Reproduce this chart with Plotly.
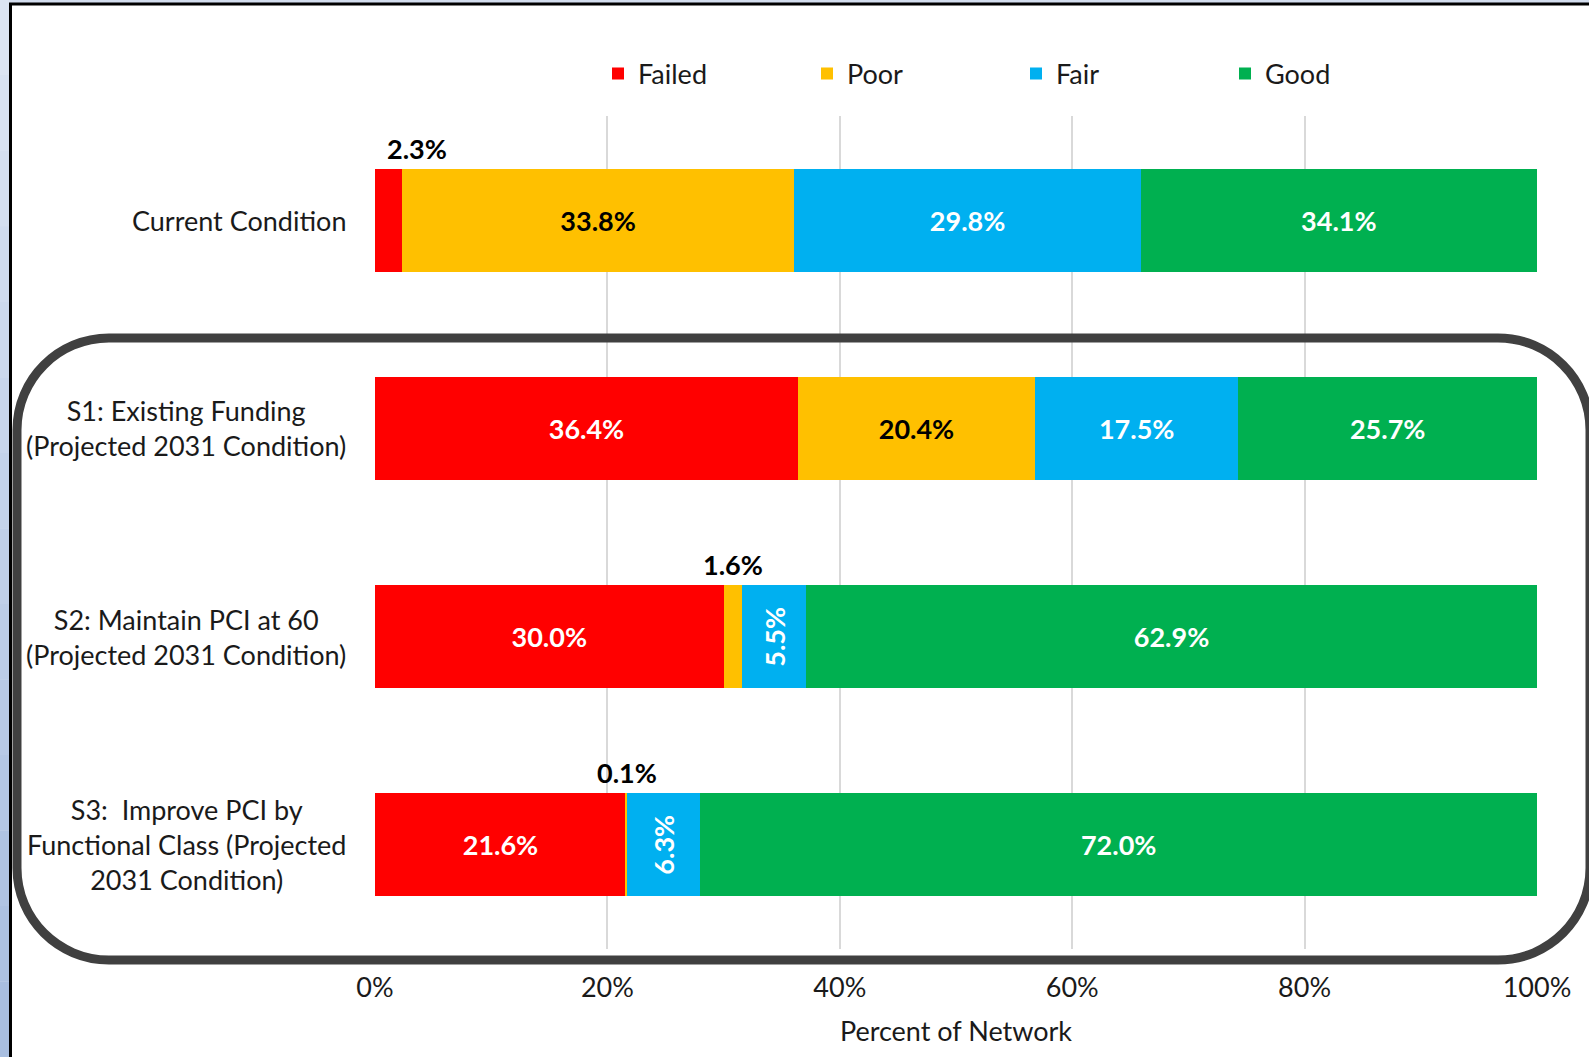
import plotly.graph_objects as go

# ---------------- data ----------------
categories = [
    "Current Condition",
    "S1: Existing Funding (Projected 2031 Condition)",
    "S2: Maintain PCI at 60 (Projected 2031 Condition)",
    "S3: Improve PCI by Functional Class (Projected 2031 Condition)",
]
category_labels = [
    "Current Condition",
    "S1: Existing Funding<br>(Projected 2031 Condition)",
    "S2: Maintain PCI at 60<br>(Projected 2031 Condition)",
    "S3:  Improve PCI by<br>Functional Class (Projected<br>2031 Condition)",
]
series_names = ["Failed", "Poor", "Fair", "Good"]
failed = [2.3, 36.4, 30.0, 21.6]
poor = [33.8, 20.4, 1.6, 0.1]
fair = [29.8, 17.5, 5.5, 6.3]
good = [34.1, 25.7, 62.9, 72.0]
# how each value's data label is shown: inside bar, above bar, or rotated inside
failed_label_mode = ["above", "inside", "inside", "inside"]
poor_label_mode = ["inside", "inside", "above", "above"]
fair_label_mode = ["inside", "inside", "vertical", "vertical"]
good_label_mode = ["inside", "inside", "inside", "inside"]
x_tick_values = [0, 20, 40, 60, 80, 100]
x_tick_labels = ["0%", "20%", "40%", "60%", "80%", "100%"]
x_axis_title = "Percent of Network"

series_values = [failed, poor, fair, good]
series_modes = [failed_label_mode, poor_label_mode, fair_label_mode, good_label_mode]
series_colors = ["#FF0000", "#FFC000", "#00B0F0", "#00B050"]
label_colors = ["#FFFFFF", "#000000", "#FFFFFF", "#FFFFFF"]

FONT = "Lato"
FS = 27
W, H = 1589, 1057
ML, MR, MT, MB = 375, 52, 116, 108
PW, PH = W - ML - MR, H - MT - MB


def px(x):
    return (x - ML) / PW


def py(y):
    return (H - MB - y) / PH


fig = go.Figure()
annotations = []
starts = [0.0] * len(categories)
for name, vals, modes, col, lcol in zip(series_names, series_values, series_modes,
                                         series_colors, label_colors):
    texts = [f"{v:.1f}%" if m == "inside" else "" for v, m in zip(vals, modes)]
    fig.add_trace(go.Bar(
        name=name, y=categories, x=vals, orientation="h",
        marker=dict(color=col, line=dict(width=0)),
        text=texts, textposition="inside", insidetextanchor="middle",
        textangle=0, constraintext="none",
        textfont=dict(family=FONT, size=FS, color=lcol, weight="bold"),
        hoverinfo="x+name",
    ))
    for i, (v, m) in enumerate(zip(vals, modes)):
        mid = starts[i] + v / 2
        if m == "above":
            left = starts[i] == 0
            annotations.append(dict(
                x=starts[i] if left else mid, y=categories[i], xref="x", yref="y",
                text=f"<b>{v:.1f}%</b>", showarrow=False,
                xanchor="left" if left else "center", yanchor="middle",
                xshift=10 if left else 0, yshift=72,
                font=dict(family=FONT, size=FS, color="#000000"),
            ))
        elif m == "vertical":
            annotations.append(dict(
                x=mid, y=categories[i], xref="x", yref="y",
                text=f"<b>{v:.1f}%</b>", showarrow=False, textangle=-90,
                xanchor="center", yanchor="middle",
                font=dict(family=FONT, size=FS, color=lcol),
            ))
        starts[i] += v

# category labels (centered lines, right-aligned block)
for cat, lab in zip(categories, category_labels):
    annotations.append(dict(
        x=0, y=cat, xref="paper", yref="y", text=lab, showarrow=False,
        xanchor="right", yanchor="middle", align="center", xshift=-27,
        font=dict(family=FONT, size=FS, color="#1a1a1a"),
    ))

shapes = []
# left bluish strip (page background gradient)
n_bands = 14
c0, c1 = (220, 229, 243), (168, 190, 224)
for b in range(n_bands):
    t = b / (n_bands - 1)
    c = tuple(round(c0[k] + (c1[k] - c0[k]) * t) for k in range(3))
    shapes.append(dict(
        type="rect", xref="paper", yref="paper", layer="below",
        x0=px(0), x1=px(10), y0=py(H * b / n_bands), y1=py(H * (b + 1) / n_bands),
        fillcolor=f"rgb{c}", line=dict(width=0),
    ))
# white chart frame with black border (cut off at right/bottom)
shapes.append(dict(
    type="rect", xref="paper", yref="paper", layer="below",
    x0=px(10.5), x1=px(1640), y0=py(4), y1=py(1100),
    fillcolor="#FFFFFF", line=dict(color="#000000", width=3),
))
# rounded rectangle grouping the scenarios
L, R, T, B, r = 17, 1590, 338, 960, 92
k = 0.5523 * r


def P(x, y):
    return f"{px(x):.6f},{py(y):.6f}"


path = (
    f"M {P(L + r, T)} L {P(R - r, T)} "
    f"C {P(R - r + k, T)} {P(R, T + r - k)} {P(R, T + r)} "
    f"L {P(R, B - r)} "
    f"C {P(R, B - r + k)} {P(R - r + k, B)} {P(R - r, B)} "
    f"L {P(L + r, B)} "
    f"C {P(L + r - k, B)} {P(L, B - r + k)} {P(L, B - r)} "
    f"L {P(L, T + r)} "
    f"C {P(L, T + r - k)} {P(L + r - k, T)} {P(L + r, T)} Z"
)
shapes.append(dict(
    type="path", xref="paper", yref="paper", layer="above", path=path,
    line=dict(color="#404040", width=9), fillcolor="rgba(0,0,0,0)",
))

fig.update_layout(
    width=W, height=H,
    margin=dict(l=ML, r=MR, t=MT, b=MB, pad=0),
    barmode="stack", bargap=0.505,
    paper_bgcolor="#d3ddee", plot_bgcolor="rgba(0,0,0,0)",
    font=dict(family=FONT, size=FS, color="#1a1a1a"),
    showlegend=True,
    legend=dict(
        orientation="h", x=px(598), xanchor="left", y=py(74), yanchor="middle",
        entrywidth=164, entrywidthmode="pixels", traceorder="normal",
        bgcolor="rgba(0,0,0,0)", font=dict(family=FONT, size=FS, color="#1a1a1a"),
    ),
    xaxis=dict(
        range=[0, 100], tickvals=x_tick_values, ticktext=x_tick_labels,
        showgrid=True, gridcolor="#d9d9d9", gridwidth=1.5,
        zeroline=False, showline=False, ticks="", ticklabelstandoff=20,
        tickfont=dict(family=FONT, size=FS, color="#1a1a1a"),
        title=dict(text=x_axis_title, standoff=20,
                   font=dict(family=FONT, size=FS, color="#1a1a1a")),
        fixedrange=True,
    ),
    yaxis=dict(
        categoryorder="array", categoryarray=categories, autorange="reversed",
        showticklabels=False, showgrid=False, zeroline=False, showline=False,
        ticks="", fixedrange=True,
    ),
    annotations=annotations,
    shapes=shapes,
)

fig.write_html("out.html", config={"displayModeBar": False},
               post_script="document.body.style.margin='0';")
